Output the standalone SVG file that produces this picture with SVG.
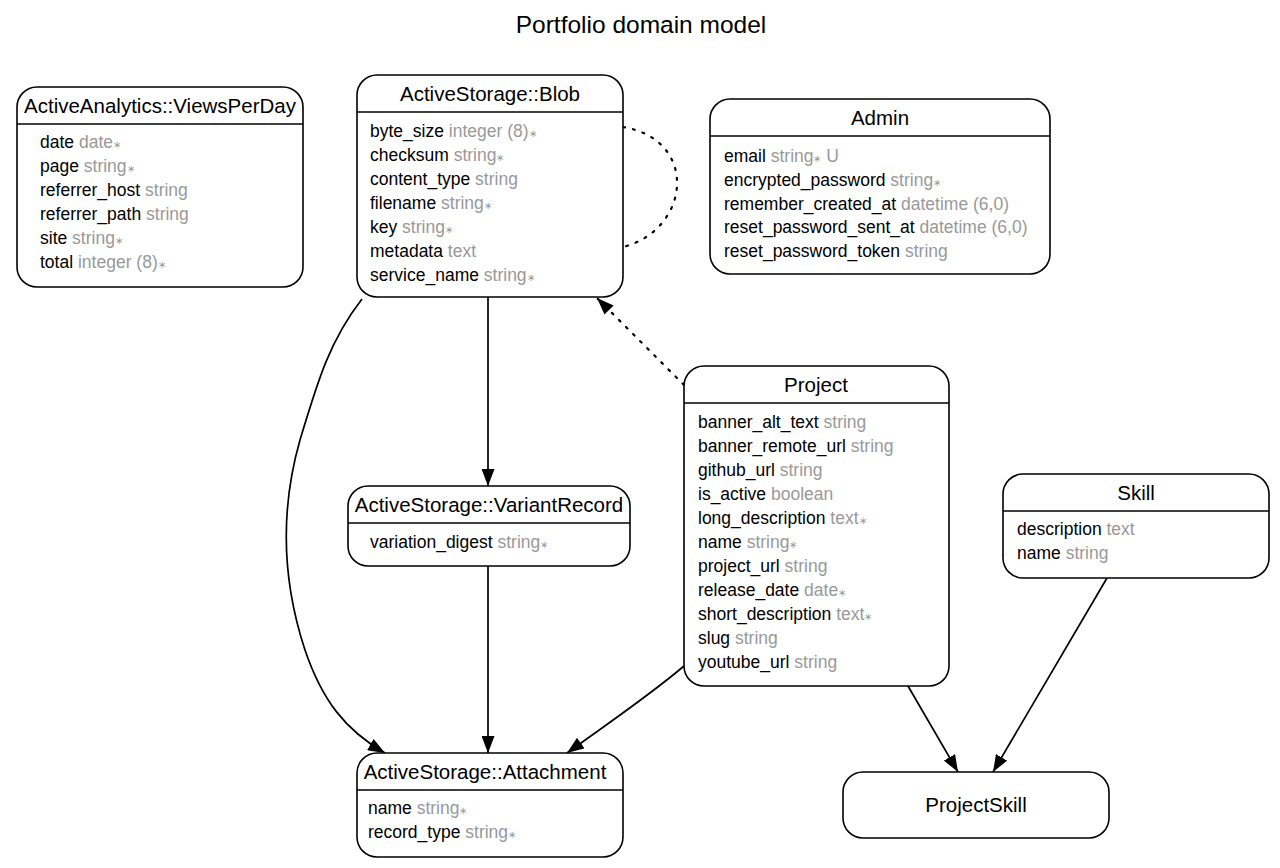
<svg xmlns="http://www.w3.org/2000/svg" width="1280" height="868" viewBox="0 0 1280 868">
<defs>
<style>
text{font-family:"Liberation Sans",Arial,Helvetica,sans-serif;fill:#000}
.title{font-size:24.5px}
.hd{font-size:20.5px}
.at{font-size:17.5px}
.ty{fill:#999}
.box{fill:#fff;stroke:#000;stroke-width:1.6}
.div{stroke:#000;stroke-width:1.6}
.edge{fill:none;stroke:#000;stroke-width:1.7}
.dot{stroke-dasharray:2 8;stroke-linecap:round;stroke-width:2.2}
</style>
<marker id="arr" viewBox="0 0 17 13" refX="17" refY="6.5" markerWidth="17" markerHeight="13" markerUnits="userSpaceOnUse" orient="auto">
<path d="M0,0 L17,6.5 L0,13 z" fill="#000"/>
</marker>
</defs>
<rect width="1280" height="868" fill="#fff"/>
<text class="title" x="641" y="33" text-anchor="middle">Portfolio domain model</text>

<g id="connectors">
<path class="edge dot" d="M623,127 C700,140 690,230 623,247"/>
<path class="edge" d="M488,297 L488,486" marker-end="url(#arr)"/>
<path class="edge" d="M362,299 C330,340 318,380 300,440 C280,510 282,580 305,650 C322,700 345,730 385,753" marker-end="url(#arr)"/>
<path class="edge" d="M488,566 L488,753" marker-end="url(#arr)"/>
<path class="edge" d="M684,666 C650,695 610,722 567,753" marker-end="url(#arr)"/>
<path class="edge dot" d="M684,385 L597,298" marker-end="url(#arr)"/>
<path class="edge" d="M908,686 L958,772" marker-end="url(#arr)"/>
<path class="edge" d="M1107,578 L993,772" marker-end="url(#arr)"/>
</g>

<g id="ViewsPerDay">
<rect class="box" x="17" y="87" width="286" height="200" rx="20"/>
<line class="div" x1="17" y1="124" x2="303" y2="124"/>
<text class="hd" x="160" y="113" text-anchor="middle">ActiveAnalytics::ViewsPerDay</text>
<text class="at" x="40" y="148">date <tspan class="ty">date<tspan font-size="10">∗</tspan></tspan></text>
<text class="at" x="40" y="172">page <tspan class="ty">string<tspan font-size="10">∗</tspan></tspan></text>
<text class="at" x="40" y="196">referrer_host <tspan class="ty">string</tspan></text>
<text class="at" x="40" y="220">referrer_path <tspan class="ty">string</tspan></text>
<text class="at" x="40" y="244">site <tspan class="ty">string<tspan font-size="10">∗</tspan></tspan></text>
<text class="at" x="40" y="268">total <tspan class="ty">integer (8)<tspan font-size="10">∗</tspan></tspan></text>
</g>

<g id="Blob">
<rect class="box" x="357" y="75" width="266" height="222" rx="20"/>
<line class="div" x1="357" y1="112" x2="623" y2="112"/>
<text class="hd" x="490" y="101" text-anchor="middle">ActiveStorage::Blob</text>
<text class="at" x="370" y="137">byte_size <tspan class="ty">integer (8)<tspan font-size="10">∗</tspan></tspan></text>
<text class="at" x="370" y="161">checksum <tspan class="ty">string<tspan font-size="10">∗</tspan></tspan></text>
<text class="at" x="370" y="185">content_type <tspan class="ty">string</tspan></text>
<text class="at" x="370" y="209">filename <tspan class="ty">string<tspan font-size="10">∗</tspan></tspan></text>
<text class="at" x="370" y="233">key <tspan class="ty">string<tspan font-size="10">∗</tspan></tspan></text>
<text class="at" x="370" y="257">metadata <tspan class="ty">text</tspan></text>
<text class="at" x="370" y="281">service_name <tspan class="ty">string<tspan font-size="10">∗</tspan></tspan></text>
</g>

<g id="Admin">
<rect class="box" x="710" y="99" width="340" height="175" rx="20"/>
<line class="div" x1="710" y1="136" x2="1050" y2="136"/>
<text class="hd" x="880" y="125" text-anchor="middle">Admin</text>
<text class="at" x="724" y="162">email <tspan class="ty">string<tspan font-size="10">∗</tspan> U</tspan></text>
<text class="at" x="724" y="186">encrypted_password <tspan class="ty">string<tspan font-size="10">∗</tspan></tspan></text>
<text class="at" x="724" y="210">remember_created_at <tspan class="ty">datetime (6,0)</tspan></text>
<text class="at" x="724" y="233">reset_password_sent_at <tspan class="ty">datetime (6,0)</tspan></text>
<text class="at" x="724" y="257">reset_password_token <tspan class="ty">string</tspan></text>
</g>

<g id="VariantRecord">
<rect class="box" x="348" y="486" width="282" height="80" rx="20"/>
<line class="div" x1="348" y1="523" x2="630" y2="523"/>
<text class="hd" x="489" y="512" text-anchor="middle">ActiveStorage::VariantRecord</text>
<text class="at" x="370" y="548">variation_digest <tspan class="ty">string<tspan font-size="10">∗</tspan></tspan></text>
</g>

<g id="Project">
<rect class="box" x="684" y="366" width="265" height="320" rx="20"/>
<line class="div" x1="684" y1="403" x2="949" y2="403"/>
<text class="hd" x="816" y="392" text-anchor="middle">Project</text>
<text class="at" x="698" y="428">banner_alt_text <tspan class="ty">string</tspan></text>
<text class="at" x="698" y="452">banner_remote_url <tspan class="ty">string</tspan></text>
<text class="at" x="698" y="476">github_url <tspan class="ty">string</tspan></text>
<text class="at" x="698" y="500">is_active <tspan class="ty">boolean</tspan></text>
<text class="at" x="698" y="524">long_description <tspan class="ty">text<tspan font-size="10">∗</tspan></tspan></text>
<text class="at" x="698" y="548">name <tspan class="ty">string<tspan font-size="10">∗</tspan></tspan></text>
<text class="at" x="698" y="572">project_url <tspan class="ty">string</tspan></text>
<text class="at" x="698" y="596">release_date <tspan class="ty">date<tspan font-size="10">∗</tspan></tspan></text>
<text class="at" x="698" y="620">short_description <tspan class="ty">text<tspan font-size="10">∗</tspan></tspan></text>
<text class="at" x="698" y="644">slug <tspan class="ty">string</tspan></text>
<text class="at" x="698" y="668">youtube_url <tspan class="ty">string</tspan></text>
</g>

<g id="Skill">
<rect class="box" x="1003" y="474" width="266" height="104" rx="20"/>
<line class="div" x1="1003" y1="511" x2="1269" y2="511"/>
<text class="hd" x="1136" y="500" text-anchor="middle">Skill</text>
<text class="at" x="1017" y="535">description <tspan class="ty">text</tspan></text>
<text class="at" x="1017" y="559">name <tspan class="ty">string</tspan></text>
</g>

<g id="Attachment">
<rect class="box" x="357" y="753" width="266" height="104" rx="20"/>
<line class="div" x1="357" y1="790" x2="623" y2="790"/>
<text class="hd" x="485" y="779" text-anchor="middle">ActiveStorage::Attachment</text>
<text class="at" x="368" y="814">name <tspan class="ty">string<tspan font-size="10">∗</tspan></tspan></text>
<text class="at" x="368" y="838">record_type <tspan class="ty">string<tspan font-size="10">∗</tspan></tspan></text>
</g>

<g id="ProjectSkill">
<rect class="box" x="843" y="772" width="266" height="66" rx="20"/>
<text class="hd" x="976" y="812" text-anchor="middle">ProjectSkill</text>
</g>
</svg>
